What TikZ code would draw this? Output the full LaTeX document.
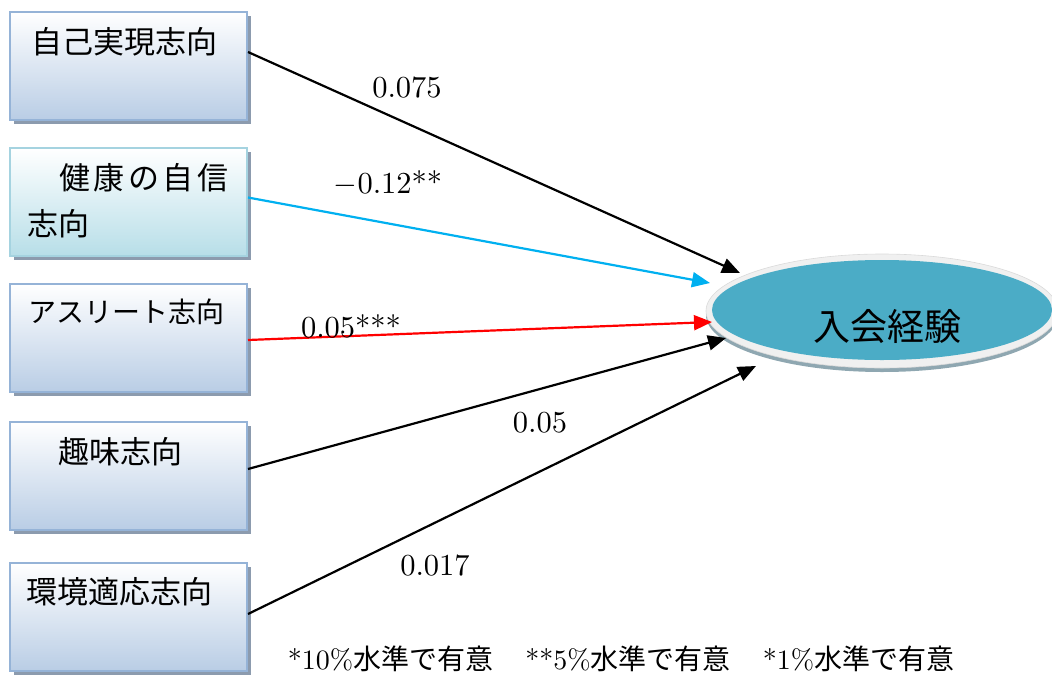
\documentclass[tikz,border=0pt]{standalone}
\usepackage{fontspec}
\usepackage{graphicx}
\newfontfamily\jp{Noto Sans CJK JP}
\usetikzlibrary{arrows.meta,shadows,shapes.geometric}
\definecolor{boxbot}{HTML}{B9CDE5}
\definecolor{boxedge}{HTML}{95B3D7}
\definecolor{boxbotb}{HTML}{B7DEE8}
\definecolor{boxedgeb}{HTML}{A5D3E0}
\definecolor{shadowc}{HTML}{8C9BAE}
\definecolor{tealc}{HTML}{4BACC6}
\definecolor{ringc}{HTML}{F0F0F0}
\definecolor{ringedge}{HTML}{DADADA}
\definecolor{ellshadow}{HTML}{8FA7B1}
\definecolor{cyanarrow}{HTML}{00B0F0}
\newcommand{\bignum}[1]{\scalebox{3.05}{\fontsize{10}{12}\selectfont #1}}
\begin{document}
\begin{tikzpicture}[x=1pt,y=-1pt,
  box/.style={draw=boxedge, line width=2pt, top color=white, bottom color=boxbot,
    minimum width=237pt, minimum height=108pt, inner sep=0pt,
    drop shadow={shadow xshift=4pt, shadow yshift=-4pt, fill=shadowc, opacity=1}},
  boxb/.style={box, draw=boxedgeb, bottom color=boxbotb},
  jlabel/.style={anchor=west, inner sep=0pt, font=\jp\fontsize{31}{33}\selectfont},
  num/.style={inner sep=0pt},
  arr/.style={line width=2.2pt, -{Triangle[length=18pt,width=15pt]}}
]
\useasboundingbox (0,0) rectangle (1052,675);
\clip (0,0) rectangle (1052,675);

% boxes
\node[box]  (b1) at (128.5,66) {};
\node[boxb] (b2) at (128.5,202) {};
\node[box]  (b3) at (128.5,338) {};
\node[box]  (b4) at (128.5,476) {};
\node[box]  (b5) at (128.5,617) {};

% box texts
\node[jlabel] (l1) at (31,42) {自己実現志向};
\node[jlabel] (l2a) at (59,178) {健\kern3.5pt 康\kern3.5pt の\kern3.5pt 自\kern3.5pt 信};
\node[jlabel] (l2b) at (27,224) {志向};
\node[jlabel, font=\jp\fontsize{28}{30}\selectfont] (l3) at (28,312) {アスリート志向};
\node[jlabel] (l4) at (58,452) {趣味志向};
\node[jlabel] (l5) at (26,592) {環境適応志向};

% ellipse
\fill[ellshadow] (882,315) ellipse [x radius=176pt, y radius=57pt];
\filldraw[fill=ringc, draw=ringedge, line width=0.6pt] (882,311) ellipse [x radius=176pt, y radius=57pt];
\node[ellipse, fill=tealc, minimum width=340pt, minimum height=100pt, inner sep=0pt] (e) at (882,310) {};
\node[inner sep=0pt, font=\jp\fontsize{37}{40}\selectfont] (et) at (887,326) {入会経験};

% arrow tips
\coordinate (t1) at (740,273);
\coordinate (t2) at (710,283);
\coordinate (t3) at (712,322);
\coordinate (t4) at (726,338);
\coordinate (t5) at (756,366);

% connectors
\draw[arr, black] ([yshift=14pt]b1.east) -- (t1);
\draw[arr, cyanarrow] ([yshift=4.5pt]b2.east) -- (t2);
\draw[arr, red] ([yshift=-2pt]b3.east) -- (t3);
\draw[arr, black] ([yshift=7pt]b4.east) -- (t4);
\draw[arr, black] ([yshift=3pt]b5.east) -- (t5);

% labels
\node[num] (n1) at (407,88) {\bignum{0.075}};
\node[num] (n2) at (388,183) {\bignum{$-$0.12**}};
\node[num] (n3) at (351,326) {\bignum{0.05***}};
\node[num] (n4) at (540,423) {\bignum{0.05}};
\node[num] (n5) at (435,566) {\bignum{0.017}};

% footnote
\node[inner sep=0pt] (fn) at (621,659)
  {\scalebox{2.8}{\fontsize{10}{12}\selectfont *10\%{\jp 水準で有意}\hspace{11.5pt}**5\%{\jp 水準で有意}\hspace{11.5pt}*1\%{\jp 水準で有意}}};
\end{tikzpicture}
\end{document}
